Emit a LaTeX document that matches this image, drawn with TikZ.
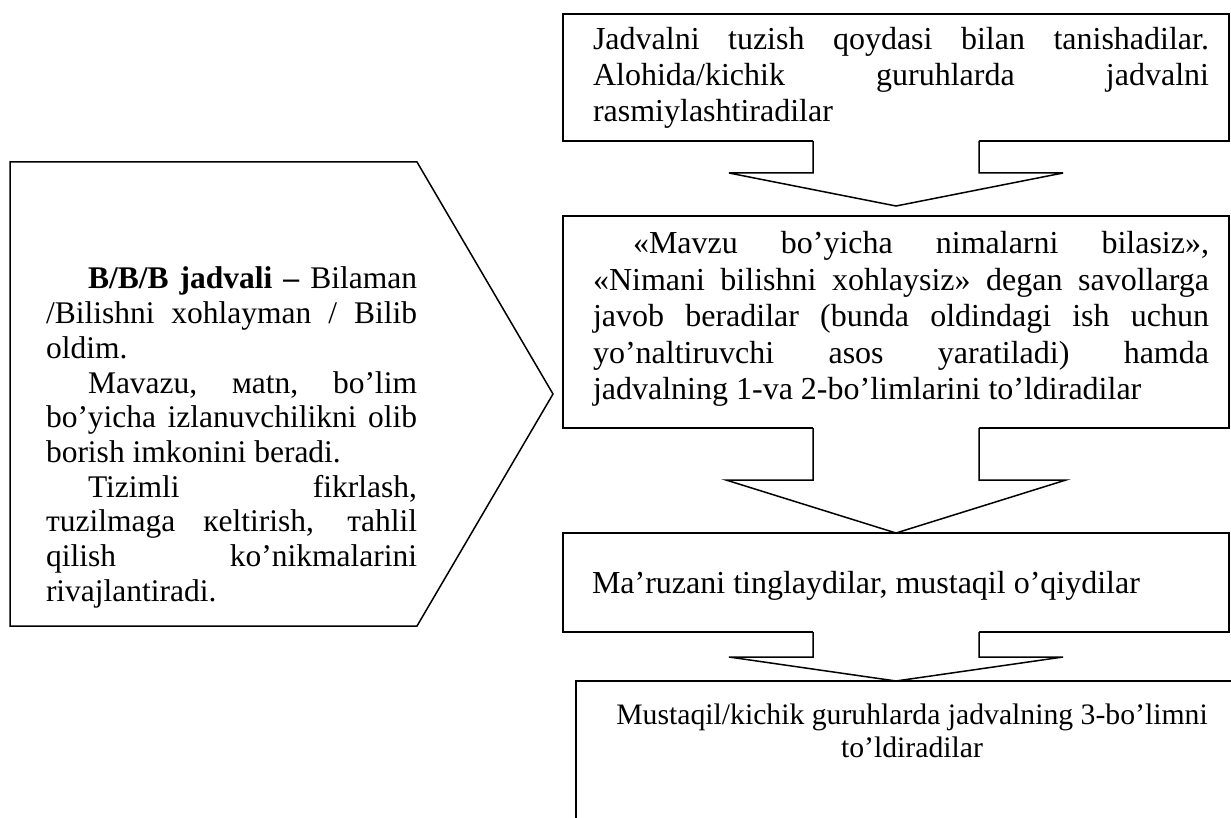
\documentclass[tikz,border=0pt]{standalone}
\usepackage{fontspec}
\setmainfont{Liberation Serif}
\usetikzlibrary{calc}
\newcommand{\JL}[1]{\hbox to\linewidth{#1}}
\newcommand{\NL}[1]{\hbox{#1}}
\tikzset{
  outline/.style={draw=black, line width=1.5pt, line join=miter},
  box/.style={outline, inner sep=0pt, outer sep=0pt, anchor=north west},
  txt/.style={inner sep=0pt, outer sep=0pt, anchor=base west, text=black},
}
\newcommand{\BlockArrow}[5]{%
  \path (#2.north -| #1.south) coordinate (tipbase);
  \fill[white] ([xshift=-83pt,yshift=3pt]#1.south) -- ([xshift=-83pt,yshift=-#3]#1.south)
     -- ([xshift=-#4,yshift=-#3]#1.south) -- ([yshift=#5]tipbase)
     -- ([xshift=#4,yshift=-#3]#1.south) -- ([xshift=83pt,yshift=-#3]#1.south)
     -- ([xshift=83pt,yshift=3pt]#1.south) -- cycle;
  \draw[outline] ([xshift=-83pt]#1.south) -- ([xshift=-83pt,yshift=-#3]#1.south)
     -- ([xshift=-#4,yshift=-#3]#1.south) -- ([yshift=#5]tipbase)
     -- ([xshift=#4,yshift=-#3]#1.south) -- ([xshift=83pt,yshift=-#3]#1.south)
     -- ([xshift=83pt]#1.south);
}
\begin{document}
\begin{tikzpicture}[x=1pt,y=-1pt]
\useasboundingbox (0,0) rectangle (1231,818);
\fill[white] (0,0) rectangle (1231,818);
\clip (0,0) rectangle (1231,818);

% left pentagon
\coordinate (p1) at (10,162);
\coordinate (p2) at (417,162);
\coordinate (p3) at (553,394);
\coordinate (p4) at (417,626);
\coordinate (p5) at (10,626);
\draw[outline] (p1) -- (p2) -- (p3) -- (p4) -- (p5) -- cycle;

\node[txt] (ptext) at (46,289) {\begin{minipage}[t]{371pt}\fontsize{31.5pt}{34.7pt}\selectfont
\JL{\hspace*{42pt}\textbf{B/B/B jadvali –} Bilaman}
\JL{/Bilishni xohlayman / Bilib}
\NL{oldim.}
\JL{\hspace*{42pt}Mavazu, мatn, bo’lim}
\JL{bo’yicha izlanuvchilikni olib}
\NL{borish imkonini beradi.}
\JL{\hspace*{42pt}Tizimli fikrlash,}
\JL{тuzilmaga кeltirish, тahlil}
\JL{qilish ko’nikmalarini}
\NL{rivajlantiradi.}
\end{minipage}};

% right column boxes
\node[box, minimum width=666pt, minimum height=127pt] (b1) at (563,14) {};
\node[box, minimum width=666pt, minimum height=212pt] (b2) at (563,216) {};
\node[box, minimum width=666pt, minimum height=99pt] (b3) at (563,533) {};
\node[box, minimum width=720pt, minimum height=200pt] (b4) at (576,681) {};

\BlockArrow{b1}{b2}{32pt}{167pt}{10pt}
\BlockArrow{b2}{b3}{52pt}{170pt}{0pt}
\BlockArrow{b3}{b4}{25pt}{167pt}{0pt}

\node[txt] (t1) at (593,50) {\begin{minipage}[t]{616pt}\fontsize{32pt}{36pt}\selectfont
\JL{Jadvalni tuzish qoydasi bilan tanishadilar.}
\JL{Alohida/kichik guruhlarda jadvalni}
\NL{rasmiylashtiradilar}
\end{minipage}};

\node[txt] (t2) at (593,254) {\begin{minipage}[t]{616pt}\fontsize{32pt}{36.5pt}\selectfont
\JL{\hspace*{40pt}«Mavzu bo’yicha nimalarni bilasiz»,}
\JL{«Nimani bilishni xohlaysiz» degan savollarga}
\JL{javob beradilar (bunda oldindagi ish uchun}
\JL{yo’naltiruvchi asos yaratiladi) hamda}
\NL{jadvalning 1-va 2-bo’limlarini to’ldiradilar}
\end{minipage}};

\node[txt, font=\fontsize{32pt}{36pt}\selectfont] (t3) at (592,593) {Ma’ruzani tinglaydilar, mustaqil o’qiydilar};

\node[txt, anchor=base] (t4) at (912,724) {\begin{minipage}[t]{660pt}\centering\fontsize{29.7pt}{33pt}\selectfont
Mustaqil/kichik guruhlarda jadvalning 3-bo’limni\\
to’ldiradilar
\end{minipage}};
\end{tikzpicture}
\end{document}
